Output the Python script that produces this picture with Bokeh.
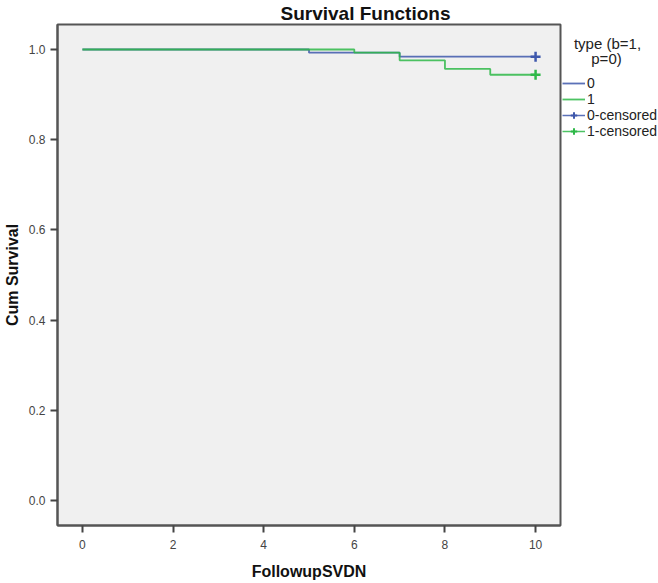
from bokeh.plotting import figure
from bokeh.models import Range1d, FixedTicker, Legend, LegendItem, Label
from bokeh.layouts import row
from bokeh.embed import file_html
from bokeh.resources import INLINE

# ---- data ----
blue_time = [0, 5, 7, 10]
blue_surv = [1.0, 0.993, 0.984, 0.984]
green_time = [0, 6, 7, 8, 9, 10]
green_surv = [1.0, 0.993, 0.976, 0.957, 0.944, 0.944]
blue_cens_time = [10]
blue_cens_surv = [0.984]
green_cens_time = [10]
green_cens_surv = [0.944]
x_ticks = [0, 2, 4, 6, 8, 10]
y_ticks = [0.0, 0.2, 0.4, 0.6, 0.8, 1.0]
group_labels = ["0", "1", "0-censored", "1-censored"]
legend_title_lines = ["type (b=1,", "p=0)"]

BLUE = "#3E58AC"
GREEN = "#2EB848"
FONT = "Liberation Sans"

# ---------------- main plot ----------------
p = figure(width=562, height=583, output_backend="svg", toolbar_location=None,
           title="Survival Functions",
           x_range=Range1d(-0.55, 10.55), y_range=Range1d(-0.0554, 1.0554),
           min_border_left=57, min_border_right=2, min_border_top=24, min_border_bottom=58)

p.title.text_font = FONT
p.title.text_font_size = "19px"
p.title.text_font_style = "bold"
p.title.text_color = "#111111"
p.title.align = "left"
p.title.offset = 223
p.title.standoff = 1

p.background_fill_color = "#F0F0F0"
p.border_fill_color = "white"
p.outline_line_color = "#555555"
p.outline_line_width = 2
p.grid.visible = False

for ax in (p.xaxis[0], p.yaxis[0]):
    ax.axis_line_color = "#555555"
    ax.axis_line_width = 2
    ax.major_tick_line_color = "#444444"
    ax.major_tick_line_width = 2
    ax.major_tick_in = 0
    ax.major_tick_out = 7
    ax.minor_tick_line_color = None
    ax.major_label_text_font = FONT
    ax.major_label_text_font_size = "12px"
    ax.major_label_text_color = "#444444"
    ax.axis_label_text_font = FONT
    ax.axis_label_text_font_style = "bold"
    ax.axis_label_text_font_size = "16px"
    ax.axis_label_text_color = "#111111"

p.xaxis.ticker = FixedTicker(ticks=x_ticks)
p.yaxis.ticker = FixedTicker(ticks=y_ticks)
p.yaxis.major_label_overrides = {v: f"{v:.1f}" for v in y_ticks}
p.xaxis.major_label_standoff = 7
p.yaxis.major_label_standoff = 5
p.xaxis.axis_label = "FollowupSVDN"
p.yaxis.axis_label = "Cum Survival"
p.xaxis.axis_label_standoff = 11
p.yaxis.axis_label_standoff = 5

p.step(blue_time, blue_surv, mode="after", line_color=BLUE, line_width=1.8, line_alpha=0.85)
p.step(green_time, green_surv, mode="after", line_color=GREEN, line_width=1.8, line_alpha=0.85)
p.scatter(blue_cens_time, blue_cens_surv, marker="cross", size=10, line_color=BLUE, line_width=2.5)
p.scatter(green_cens_time, green_cens_surv, marker="cross", size=10, line_color=GREEN, line_width=2.5)

# ---------------- legend panel ----------------
# its frame is aligned with the main frame (page y 24..525); y runs downwards in page pixels
lg = figure(width=96, height=583, output_backend="svg", toolbar_location=None,
            x_range=Range1d(0, 96), y_range=Range1d(525, 24),
            x_axis_type=None, y_axis_type=None,
            min_border_left=0, min_border_right=0, min_border_top=0, min_border_bottom=0)
lg.outline_line_color = None
lg.background_fill_color = "white"
lg.border_fill_color = "white"
lg.grid.visible = False

# hidden renderers that only provide the legend icons
l_blue = lg.step(blue_time, blue_surv, mode="after", line_color=BLUE, line_width=1.8, line_alpha=0.85, visible=False)
l_green = lg.step(green_time, green_surv, mode="after", line_color=GREEN, line_width=1.8, line_alpha=0.85, visible=False)
lc_blue = lg.scatter(blue_cens_time, blue_cens_surv, marker="cross", size=10, line_color=BLUE, line_width=2.0, visible=False)
lc_green = lg.scatter(green_cens_time, green_cens_surv, marker="cross", size=10, line_color=GREEN, line_width=2.0, visible=False)
ll_blue = lg.line(blue_cens_time, blue_cens_surv, line_color=BLUE, line_width=1.5, line_alpha=0.85, visible=False)
ll_green = lg.line(green_cens_time, green_cens_surv, line_color=GREEN, line_width=1.5, line_alpha=0.85, visible=False)

legend = Legend(items=[
    LegendItem(label=group_labels[0], renderers=[l_blue]),
    LegendItem(label=group_labels[1], renderers=[l_green]),
    LegendItem(label=group_labels[2], renderers=[ll_blue, lc_blue]),
    LegendItem(label=group_labels[3], renderers=[ll_green, lc_green]),
], location=(0, 386))
legend.padding = 0
legend.margin = 0
legend.spacing = 0
legend.glyph_width = 23
legend.glyph_height = 16
legend.label_height = 16
legend.label_standoff = 2
legend.label_text_font = FONT
legend.label_text_font_size = "14px"
legend.label_text_color = "#222222"
legend.border_line_alpha = 0
legend.background_fill_alpha = 0
lg.add_layout(legend, "center")

lg.add_layout(Label(x=45, y=43, text=legend_title_lines[0], text_align="center", text_baseline="middle",
                    text_font=FONT, text_font_size="15px", text_color="#222222"))
lg.add_layout(Label(x=44, y=58, text=legend_title_lines[1], text_align="center", text_baseline="middle",
                    text_font=FONT, text_font_size="15px", text_color="#222222"))

layout = row(p, lg, spacing=0)
open("out.html", "w").write(file_html(layout, INLINE))
